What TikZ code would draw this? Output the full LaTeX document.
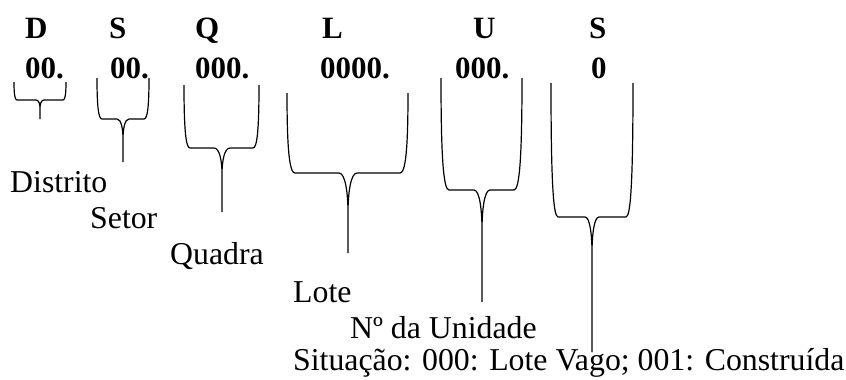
\documentclass[tikz,border=0pt]{standalone}
\usepackage{fontspec}
\setmainfont{Liberation Serif}
\tikzset{
  campo/.style={anchor=base west, inner sep=0pt, font=\fontsize{31}{36}\selectfont\bfseries},
  rotulo/.style={anchor=base west, inner sep=0pt, font=\fontsize{31.8}{36}\selectfont},
  chave/.style={draw=black, line width=1.2pt, line join=round}
}
% \chave{left}{right}{top}{bar}{tip x}{tip end}{corner}{cusp half width}{cusp depth}
\newcommand\chave[9]{%
  \draw[chave]
    (#1,#3) .. controls (#1,{#3+0.7*(#4-#3)}) and ({#1+0.3*#7},#4) .. ({#1+#7},#4)
    -- ({#5-#8},#4) .. controls ({#5-0.3*#8},#4) and (#5,{#4+0.5*#9}) .. (#5,{#4+#9})
    -- (#5,#6)
    (#2,#3) .. controls (#2,{#3+0.7*(#4-#3)}) and ({#2-0.3*#7},#4) .. ({#2-#7},#4)
    -- ({#5+#8},#4) .. controls ({#5+0.3*#8},#4) and (#5,{#4+0.5*#9}) .. (#5,{#4+#9});
}
\begin{document}
\begin{tikzpicture}[x=1pt, y=-1pt]
  \useasboundingbox (0,0) rectangle (846,380);
  % field letters
  \node[campo] (lD) at (25,38) {D};
  \node[campo] (lS) at (109,38) {S};
  \node[campo] (lQ) at (195,38) {Q};
  \node[campo] (lL) at (322,38) {L};
  \node[campo] (lU) at (473,38) {U};
  \node[campo] (lS2) at (589,38) {S};
  % field digits
  \node[campo] (dD) at (25,78) {00.};
  \node[campo] (dS) at (110,78) {00.};
  \node[campo] (dQ) at (195,78) {000.};
  \node[campo] (dL) at (320,78) {0000.};
  \node[campo] (dU) at (455,78) {000.};
  \node[campo] (dS2) at (591,78) {0};
  % braces under each field
  \chave{14}{66}{82}{100}{40}{119}{3}{4}{8}
  \chave{97}{149}{78}{119}{123}{162}{5}{6}{20}
  \chave{184}{259}{85}{148}{222}{212}{6}{8}{26}
  \chave{287}{408}{93}{173}{348}{253}{8}{9}{40}
  \chave{441}{522}{78}{190}{482}{302}{8}{8}{40}
  \chave{551}{633}{83}{217}{592}{352}{7}{7}{36}
  % descriptions
  \node[rotulo] (tD) at (10,192) {Distrito};
  \node[rotulo] (tS) at (90,228) {Setor};
  \node[rotulo] (tQ) at (170,264) {Quadra};
  \node[rotulo] (tL) at (293,302) {Lote};
  \node[rotulo] (tU) at (350,338) {Nº da Unidade};
  \node[rotulo] (tS2) at (293,370) {Situação: 000: Lote Vago; 001: Construída};
\end{tikzpicture}
\end{document}
